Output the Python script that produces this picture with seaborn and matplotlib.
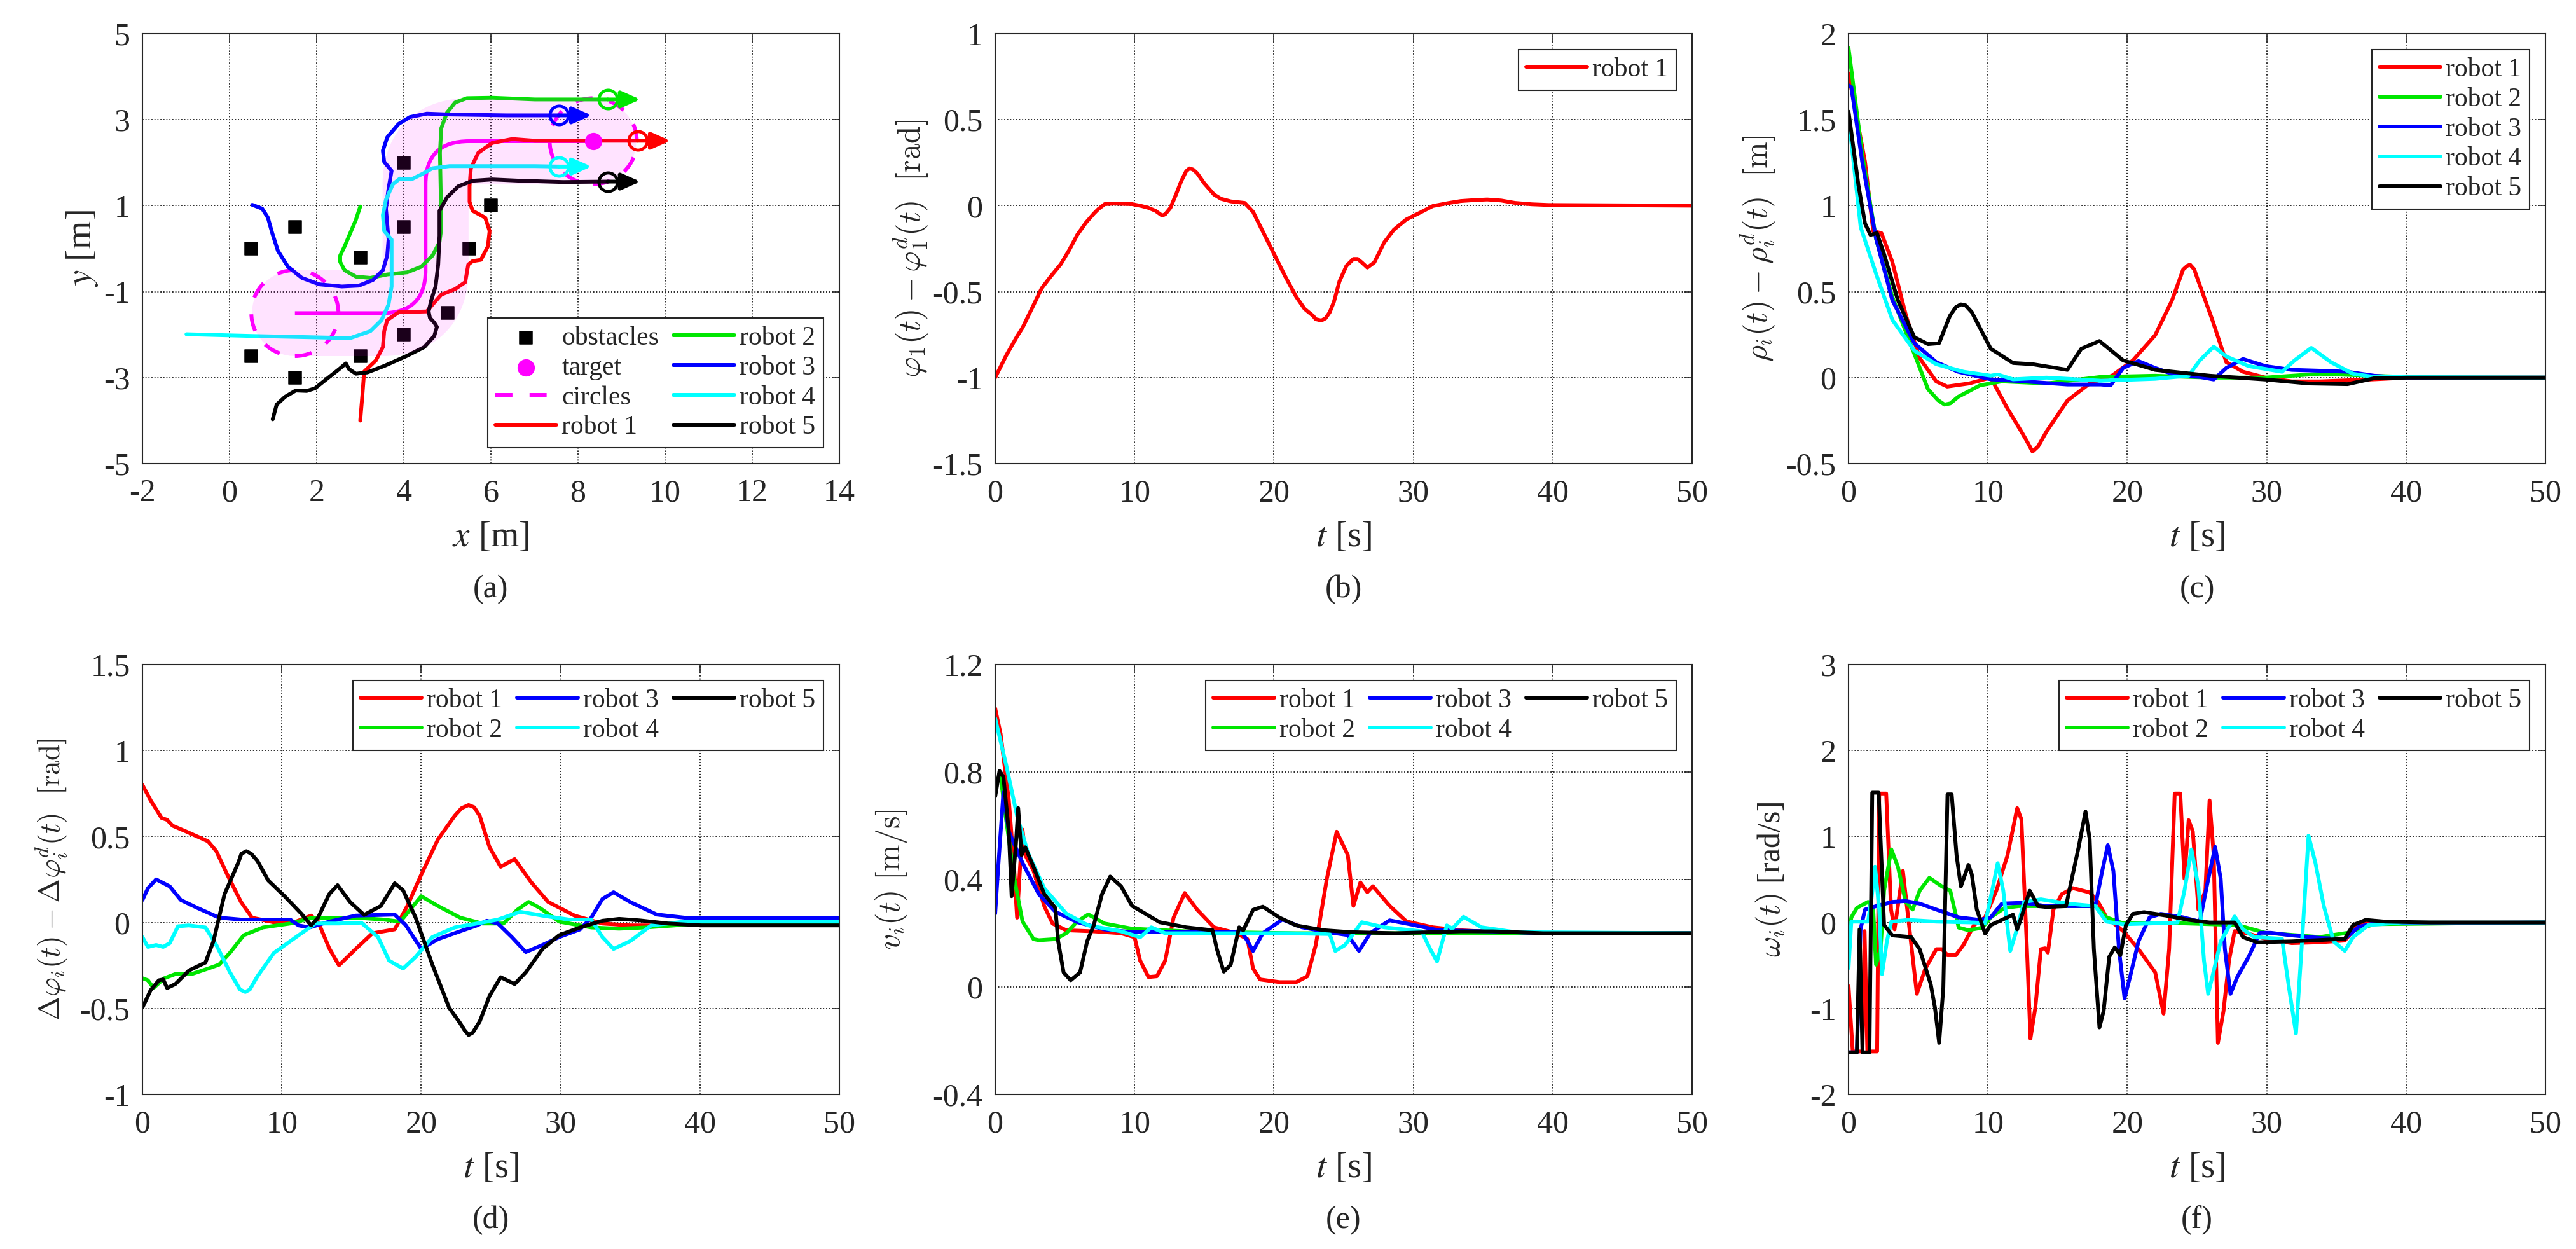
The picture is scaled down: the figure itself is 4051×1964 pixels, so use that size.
import numpy as np
import matplotlib
matplotlib.use('Agg')
import matplotlib.pyplot as plt
import seaborn as sns
from matplotlib.path import Path
from matplotlib.patches import PathPatch, Circle
from matplotlib.lines import Line2D
from matplotlib.ticker import FuncFormatter

sns.set_style('white')
plt.rcParams['font.family'] = ['Liberation Serif', 'DejaVu Serif']
plt.rcParams['mathtext.fontset'] = 'stix'
plt.rcParams['axes.unicode_minus'] = False

# ---------------- panel (a): trajectories ----------------
obst_x = [0.5, 1.5, 3, 4, 4, 5.5, 6, 5, 4, 0.5, 3, 1.5]
obst_y = [0, 0.5, -0.2, 2, 0.5, 0, 1, -1.5, -2, -2.5, -2.5, -3]
target_x = [8.35]
target_y = [2.5]
circle_cx = [1.5, 8.35]
circle_cy = [-1.5, 2.5]
circle_r = 1.0
# reference path (vertices + quadratic bezier controls at the corners)
ref_x = [1.5, 3.5, 4.5, 4.5, 4.5, 4.5, 5.5, 8.35]
ref_y = [-1.5, -1.5, -1.5, -0.5, 1.5, 2.5, 2.5, 2.5]
band_width = 2.0
arrow_len = 0.75

traj1 = [(3.0, -4.0), (3.05, -3.4), (3.09, -2.86), (3.36, -2.60), (3.52, -2.29), (3.55, -1.92),
         (3.62, -1.66), (3.88, -1.48), (4.53, -1.46), (4.66, -1.30), (4.86, -1.07), (5.18, -0.94),
         (5.41, -0.78), (5.48, -0.37), (5.58, -0.29), (5.77, -0.26), (5.93, 0.05), (5.97, 0.41),
         (5.87, 0.72), (5.58, 0.88), (5.51, 1.09), (5.51, 1.45), (5.54, 1.87), (5.71, 2.23),
         (6.03, 2.46), (6.49, 2.55), (7.01, 2.51), (7.66, 2.51), (9.37, 2.51)]
traj2 = [(3.0, 0.98), (2.90, 0.67), (2.77, 0.36), (2.64, 0.05), (2.54, -0.16), (2.54, -0.31),
         (2.64, -0.50), (2.90, -0.65), (3.23, -0.68), (3.62, -0.60), (4.08, -0.55), (4.40, -0.42),
         (4.66, -0.16), (4.82, 0.15), (4.86, 0.46), (4.85, 1.19), (4.83, 2.23), (4.86, 2.80),
         (4.99, 3.16), (5.18, 3.40), (5.45, 3.50), (6.03, 3.51), (7.01, 3.47), (7.99, 3.47),
         (8.68, 3.47)]
traj3 = [(0.52, 1.02), (0.75, 0.93), (0.88, 0.72), (0.98, 0.36), (1.11, -0.05), (1.34, -0.42),
         (1.66, -0.68), (2.06, -0.83), (2.58, -0.88), (2.97, -0.86), (3.29, -0.73), (3.52, -0.50),
         (3.62, -0.16), (3.65, 0.21), (3.62, 0.57), (3.59, 0.93), (3.65, 1.40), (3.72, 1.81),
         (3.55, 2.02), (3.52, 2.28), (3.62, 2.59), (3.88, 2.90), (4.14, 3.06), (4.53, 3.14),
         (5.05, 3.12), (6.36, 3.10), (7.56, 3.10)]
traj4 = [(-0.99, -1.99), (0.51, -2.03), (2.77, -2.08), (3.23, -1.92), (3.49, -1.66), (3.65, -1.30),
         (3.72, -0.88), (3.72, -0.26), (3.72, 0.21), (3.55, 0.41), (3.52, 0.78), (3.59, 1.14),
         (3.75, 1.50), (3.91, 1.63), (4.17, 1.61), (4.43, 1.74), (4.66, 1.87), (5.05, 1.92),
         (5.70, 1.92), (7.01, 1.92), (7.56, 1.91)]
traj5 = [(0.99, -3.97), (1.08, -3.63), (1.27, -3.45), (1.52, -3.30), (1.77, -3.31), (1.96, -3.25),
         (2.27, -3.0), (2.52, -2.80), (2.67, -2.67), (2.74, -2.80), (2.90, -2.91), (3.16, -2.88),
         (3.55, -2.73), (4.08, -2.49), (4.47, -2.29), (4.70, -2.03), (4.76, -1.82), (4.70, -1.72),
         (4.60, -1.61), (4.57, -1.46), (4.63, -1.20), (4.73, -0.88), (4.79, -0.37), (4.82, 0.30),
         (4.82, 0.88), (4.99, 1.19), (5.25, 1.45), (5.58, 1.58), (6.03, 1.61), (6.68, 1.58),
         (7.66, 1.55), (8.68, 1.56)]

# ---------------- panel (b) ----------------
b_r1 = [(0, -1.0), (0.8, -0.87), (1.57, -0.76), (1.96, -0.71), (3.34, -0.48), (4.0, -0.41),
        (4.71, -0.34), (5.3, -0.26), (5.89, -0.17), (6.5, -0.10), (7.07, -0.047), (7.4, -0.02),
        (7.86, 0.009), (8.5, 0.012), (9.82, 0.009), (10.5, -0.002), (11.0, -0.013), (11.5, -0.03),
        (11.98, -0.058), (12.2, -0.05), (12.57, -0.013), (13.0, 0.07), (13.35, 0.143), (13.7, 0.2),
        (13.94, 0.217), (14.2, 0.21), (14.5, 0.188), (15.0, 0.13), (15.7, 0.065), (16.2, 0.04),
        (16.9, 0.025), (17.9, 0.016), (18.5, -0.036), (19.2, -0.15), (20.0, -0.28), (20.8, -0.41),
        (21.6, -0.53), (22.2, -0.6), (22.8, -0.64), (23.0, -0.66), (23.4, -0.668), (23.7, -0.655),
        (24.0, -0.62), (24.3, -0.56), (24.7, -0.44), (25.2, -0.35), (25.7, -0.31), (26.0, -0.31),
        (26.3, -0.33), (26.7, -0.36), (27.2, -0.33), (27.9, -0.215), (28.6, -0.14), (29.5, -0.08),
        (30.5, -0.04), (31.4, -0.002), (32.5, 0.015), (33.4, 0.027), (34.5, 0.033), (35.3, 0.036),
        (36.3, 0.03), (37.3, 0.016), (38.5, 0.008), (39.7, 0.004), (50, 0.0)]

# ---------------- panel (c) ----------------
c_r1 = [(0, 1.77), (1.18, 1.256), (1.77, 0.852), (2.36, 0.84), (3.14, 0.673), (4.13, 0.359),
        (5.11, 0.112), (6.29, -0.022), (7.08, -0.052), (8.65, -0.034), (10.2, 0.0), (11.4, -0.18),
        (12.4, -0.314), (12.8, -0.37), (13.2, -0.43), (13.6, -0.40), (14.2, -0.314), (15.7, -0.134),
        (17.3, -0.034), (18.9, 0.011), (20.4, 0.10), (22.0, 0.247), (23.2, 0.448), (23.7, 0.56),
        (24.0, 0.628), (24.3, 0.65), (24.5, 0.657), (24.8, 0.63), (25.0, 0.583), (25.5, 0.47),
        (26.1, 0.336), (27.1, 0.09), (28.3, 0.034), (29.9, 0.0), (31.8, -0.022), (33.8, -0.022),
        (37.7, -0.01), (40.1, 0.0), (50, 0.0)]
c_r2 = [(0, 1.917), (0.98, 1.30), (1.97, 0.807), (3.14, 0.47), (4.52, 0.18), (5.70, -0.067),
        (6.4, -0.13), (6.88, -0.157), (7.3, -0.15), (7.86, -0.112), (9.43, -0.045), (11.0, -0.022),
        (14.2, -0.034), (18.1, 0.004), (22.0, 0.011), (25.9, 0.0), (29.9, 0.0), (33.8, 0.022),
        (37.7, 0.01), (41.7, 0.0), (50, 0.0)]
c_r3 = [(0, 1.70), (0.2, 1.69), (0.98, 1.256), (1.97, 0.81), (3.14, 0.45), (4.72, 0.20),
        (6.29, 0.09), (7.86, 0.034), (10.2, -0.01), (12.6, -0.022), (15.7, -0.04), (18.1, -0.04),
        (18.8, -0.045), (19.7, 0.056), (20.8, 0.096), (22.0, 0.056), (23.6, 0.011), (25.2, 0.004),
        (26.2, -0.011), (27.1, 0.056), (28.3, 0.108), (29.9, 0.067), (31.8, 0.045), (33.8, 0.04),
        (35.8, 0.034), (37.7, 0.011), (39.7, 0.0), (50, 0.0)]
c_r4 = [(0, 1.52), (0.87, 0.875), (1.97, 0.605), (3.14, 0.336), (4.72, 0.157), (6.29, 0.078),
        (8.25, 0.034), (10.2, 0.011), (10.7, 0.018), (11.8, -0.01), (14.2, 0.0), (18.1, -0.018),
        (22.0, -0.007), (24.4, 0.011), (25.2, 0.10), (26.2, 0.18), (27.1, 0.123), (28.7, 0.067),
        (31.1, 0.034), (32.0, 0.10), (33.2, 0.173), (34.6, 0.09), (36.2, 0.022), (37.7, 0.004),
        (50, 0.0)]
c_r5 = [(0, 1.547), (0.71, 1.12), (1.18, 0.897), (1.57, 0.83), (2.04, 0.84), (2.55, 0.718),
        (3.54, 0.45), (4.72, 0.235), (5.70, 0.195), (6.49, 0.20), (7.27, 0.359), (7.7, 0.41),
        (8.06, 0.426), (8.4, 0.42), (8.84, 0.381), (10.2, 0.168), (11.8, 0.085), (13.2, 0.078),
        (15.7, 0.045), (16.7, 0.168), (18.0, 0.213), (19.7, 0.10), (22.0, 0.045), (25.9, 0.011),
        (29.9, -0.011), (33.0, -0.034), (35.8, -0.038), (37.7, -0.004), (40.1, 0.0), (50, 0.0)]

# ---------------- panel (d) ----------------
d_r1 = [(0, 0.80), (0.59, 0.71), (1.37, 0.608), (1.77, 0.597), (2.16, 0.563), (3.14, 0.529),
        (4.71, 0.472), (5.30, 0.415), (6.09, 0.278), (7.07, 0.12), (7.86, 0.028), (9.43, 0.001),
        (11.0, 0.005), (12.1, 0.04), (12.6, 0.005), (13.4, -0.15), (14.1, -0.249), (15.3, -0.154),
        (16.5, -0.063), (18.1, -0.04), (19.0, 0.096), (20.0, 0.278), (21.2, 0.483), (22.4, 0.62),
        (22.9, 0.665), (23.4, 0.683), (23.8, 0.67), (24.2, 0.62), (24.9, 0.438), (25.7, 0.324),
        (26.7, 0.369), (27.9, 0.233), (29.1, 0.12), (31.0, 0.04), (33.0, -0.006), (35.0, -0.017),
        (36.9, -0.017), (40.8, -0.015), (50, -0.015)]
d_r2 = [(0, -0.324), (0.39, -0.336), (0.79, -0.381), (1.57, -0.324), (2.36, -0.30), (3.53, -0.30),
        (4.71, -0.268), (5.5, -0.245), (6.28, -0.176), (7.27, -0.074), (8.64, -0.029), (10.6, -0.006),
        (12.2, 0.028), (15.3, 0.028), (17.3, 0.017), (18.5, 0.005), (19.2, 0.074), (20.0, 0.153),
        (21.2, 0.096), (22.8, 0.028), (24.4, -0.006), (25.9, -0.006), (26.9, 0.074), (27.7, 0.12),
        (28.5, 0.085), (29.9, 0.005), (32.2, -0.029), (34.2, -0.036), (36.1, -0.029), (38.9, -0.013),
        (50, 0.001)]
d_r3 = [(0, 0.131), (0.39, 0.199), (0.98, 0.251), (1.96, 0.21), (2.75, 0.131), (3.93, 0.085),
        (5.5, 0.028), (7.07, 0.017), (10.6, 0.017), (11.2, -0.017), (12.0, -0.029), (13.4, 0.005),
        (15.3, 0.04), (18.1, 0.046), (18.9, -0.017), (20.0, -0.154), (21.2, -0.097), (22.8, -0.051),
        (24.0, -0.017), (24.7, 0.01), (25.5, -0.006), (26.5, -0.085), (27.5, -0.172), (28.7, -0.131),
        (29.9, -0.085), (31.4, -0.04), (32.2, 0.028), (33.0, 0.137), (33.8, 0.176), (35.0, 0.119),
        (36.9, 0.046), (38.9, 0.028), (50, 0.028)]
d_r4 = [(0, -0.085), (0.39, -0.142), (0.98, -0.131), (1.49, -0.142), (1.96, -0.12), (2.55, -0.022),
        (3.34, -0.017), (4.52, -0.029), (5.3, -0.131), (6.28, -0.29), (7.0, -0.39), (7.38, -0.404),
        (7.7, -0.39), (8.25, -0.313), (9.43, -0.177), (11.0, -0.086), (12.4, -0.006), (14.1, -0.006),
        (15.7, -0.001), (16.9, -0.085), (17.7, -0.222), (18.7, -0.268), (19.6, -0.2), (20.8, -0.085),
        (22.4, -0.029), (24.0, -0.006), (25.5, 0.017), (27.1, 0.062), (28.7, 0.04), (30.6, 0.017),
        (32.2, 0.017), (33.0, -0.085), (33.8, -0.154), (35.0, -0.108), (36.5, -0.017), (38.9, 0.005),
        (50, 0.005)]
d_r5 = [(0, -0.495), (0.59, -0.393), (1.18, -0.336), (1.49, -0.331), (1.77, -0.381), (2.36, -0.358),
        (3.34, -0.279), (4.52, -0.233), (5.1, -0.108), (5.89, 0.165), (6.87, 0.347), (7.1, 0.40),
        (7.46, 0.415), (7.8, 0.40), (8.25, 0.358), (9.03, 0.244), (10.2, 0.153), (11.4, 0.051),
        (12.1, -0.017), (12.6, 0.028), (13.4, 0.165), (14.0, 0.217), (14.9, 0.119), (15.9, 0.044),
        (17.1, 0.096), (18.1, 0.228), (18.7, 0.187), (19.6, 0.028), (20.8, -0.245), (22.0, -0.495),
        (22.8, -0.586), (23.1, -0.625), (23.4, -0.654), (23.7, -0.64), (24.2, -0.575), (24.9, -0.427),
        (25.7, -0.318), (26.7, -0.358), (27.5, -0.29), (28.7, -0.154), (29.9, -0.074), (31.4, -0.029),
        (33.0, 0.01), (34.2, 0.021), (35.7, 0.012), (37.7, -0.006), (40.1, -0.017), (50, -0.017)]

# ---------------- panel (e) ----------------
e_r1 = [(0, 1.037), (0.39, 0.942), (0.98, 0.695), (1.37, 0.433), (1.57, 0.258), (1.77, 0.433),
        (1.96, 0.586), (2.16, 0.491), (2.75, 0.433), (3.53, 0.30), (4.12, 0.236), (5.1, 0.211),
        (7.07, 0.207), (9.03, 0.2), (10.0, 0.185), (10.4, 0.098), (11.0, 0.037), (11.6, 0.04),
        (12.2, 0.098), (12.8, 0.258), (13.6, 0.35), (14.5, 0.287), (15.7, 0.222), (17.3, 0.2),
        (18.1, 0.178), (18.5, 0.069), (19.0, 0.028), (20.4, 0.018), (21.6, 0.018), (22.4, 0.04),
        (23.0, 0.156), (23.8, 0.404), (24.5, 0.578), (25.3, 0.491), (25.7, 0.302), (26.2, 0.389),
        (26.7, 0.353), (27.1, 0.375), (28.3, 0.302), (29.5, 0.244), (31.4, 0.222), (33.4, 0.211),
        (37.3, 0.2), (50, 0.2)]
e_r2 = [(0, 0.768), (0.39, 0.782), (0.79, 0.622), (1.37, 0.404), (1.96, 0.244), (2.75, 0.178),
        (3.14, 0.174), (4.32, 0.178), (5.1, 0.2), (5.9, 0.244), (6.68, 0.27), (7.86, 0.236),
        (9.8, 0.217), (13.7, 0.207), (17.7, 0.203), (21.6, 0.2), (50, 0.2)]
e_r3 = [(0, 0.273), (0.2, 0.433), (0.59, 0.724), (0.98, 0.578), (1.96, 0.462), (3.14, 0.345),
        (4.32, 0.28), (5.9, 0.241), (7.86, 0.214), (9.82, 0.204), (13.7, 0.204), (17.7, 0.204),
        (18.1, 0.171), (18.5, 0.134), (19.2, 0.2), (20.6, 0.251), (22.0, 0.222), (24.0, 0.203),
        (25.3, 0.193), (26.1, 0.134), (26.9, 0.2), (28.3, 0.248), (29.9, 0.232), (31.8, 0.211),
        (35.3, 0.207), (39.3, 0.2), (50, 0.2)]
e_r4 = [(0, 1.0), (0.79, 0.826), (1.57, 0.637), (2.36, 0.498), (3.53, 0.367), (5.1, 0.273),
        (6.68, 0.229), (9.03, 0.207), (10.4, 0.185), (11.2, 0.222), (12.2, 0.2), (15.7, 0.2),
        (20.8, 0.2), (24.0, 0.197), (24.4, 0.134), (25.1, 0.156), (26.3, 0.241), (27.9, 0.222),
        (30.6, 0.207), (31.2, 0.142), (31.7, 0.095), (32.4, 0.229), (32.8, 0.217), (33.6, 0.261),
        (34.9, 0.222), (37.3, 0.204), (50, 0.2)]
e_r5 = [(0, 0.709), (0.31, 0.804), (0.59, 0.782), (0.98, 0.578), (1.18, 0.338), (1.49, 0.534),
        (1.65, 0.666), (1.89, 0.491), (2.16, 0.52), (2.75, 0.447), (3.53, 0.345), (4.32, 0.294),
        (4.52, 0.17), (4.91, 0.054), (5.42, 0.025), (6.09, 0.054), (6.6, 0.17), (7.07, 0.229),
        (7.66, 0.345), (8.25, 0.411), (9.03, 0.375), (9.82, 0.302), (11.8, 0.241), (13.7, 0.222),
        (15.6, 0.211), (15.9, 0.142), (16.4, 0.057), (16.9, 0.083), (17.5, 0.222), (17.8, 0.211),
        (18.5, 0.287), (19.2, 0.299), (20.4, 0.258), (21.6, 0.229), (23.6, 0.211), (25.5, 0.204),
        (28.7, 0.2), (33.4, 0.207), (35.7, 0.207), (39.3, 0.2), (50, 0.2)]

# ---------------- panel (f) ----------------
f_r1 = [(0, -0.74), (0.3, -1.5), (1.0, -1.5), (1.15, -0.1), (1.35, -1.5), (2.05, -1.5), (2.2, 1.5),
        (2.7, 1.5), (3.05, 0.15), (3.3, -0.08), (3.9, 0.6), (4.9, -0.83), (5.5, -0.54), (6.3, -0.31),
        (6.7, -0.31), (7.1, -0.38), (7.7, -0.38), (8.25, -0.26), (9.0, -0.03), (9.8, 0.06),
        (10.6, 0.37), (11.4, 0.78), (12.1, 1.33), (12.4, 1.2), (12.8, -0.31), (13.05, -1.35),
        (13.4, -0.99), (13.8, -0.31), (14.1, -0.30), (14.3, -0.35), (14.7, 0.15), (15.3, 0.33),
        (16.1, 0.4), (17.3, 0.35), (17.9, 0.24), (18.5, 0.06), (19.7, -0.1), (20.8, -0.31),
        (22.0, -0.58), (22.6, -1.06), (23.0, -0.31), (23.4, 1.5), (23.8, 1.5), (24.1, 0.51),
        (24.4, 1.19), (24.7, 1.06), (25.1, 0.15), (25.6, 0.37), (25.9, 1.42), (26.2, 0.78),
        (26.5, -1.4), (26.9, -1.03), (27.3, -0.44), (27.7, -0.1), (28.7, -0.13), (29.9, -0.19),
        (31.8, -0.24), (33.8, -0.23), (35.6, -0.21), (36.4, -0.06), (37.3, 0.01), (39.7, 0.0),
        (50, 0.0)]
f_r2 = [(0, -0.2), (0.2, 0.06), (0.6, 0.17), (1.4, 0.24), (1.77, 0.15), (1.97, -0.49), (2.3, -0.31),
        (2.55, 0.37), (3.07, 0.85), (3.54, 0.65), (4.1, 0.24), (4.6, 0.15), (5.1, 0.37), (5.8, 0.52),
        (6.7, 0.42), (7.3, 0.37), (7.9, -0.06), (8.6, -0.09), (9.6, -0.06), (10.2, 0.06), (11.2, 0.17),
        (12.2, 0.19), (15.7, 0.19), (17.7, 0.19), (18.5, 0.06), (19.7, -0.01), (24.0, -0.01),
        (27.9, -0.03), (29.9, -0.12), (33.8, -0.17), (35.8, -0.12), (37.7, -0.02), (50, 0.0)]
f_r3 = [(0, -1.51), (0.6, -1.51), (0.86, -0.08), (1.18, 0.15), (1.97, 0.19), (3.14, 0.24),
        (4.1, 0.25), (5.1, 0.22), (6.3, 0.15), (7.9, 0.06), (9.4, 0.03), (10.2, 0.06), (11.0, 0.22),
        (12.6, 0.23), (14.2, 0.19), (17.7, 0.19), (18.2, 0.6), (18.6, 0.9), (19.0, 0.6),
        (19.4, -0.31), (19.8, -0.88), (20.2, -0.63), (20.8, -0.22), (21.6, 0.06), (22.4, 0.1),
        (24.0, 0.06), (25.2, 0.01), (25.7, 0.42), (26.3, 0.88), (26.7, 0.51), (27.0, -0.31),
        (27.4, -0.83), (27.9, -0.63), (28.7, -0.4), (29.5, -0.12), (30.3, -0.12), (31.8, -0.15),
        (33.8, -0.18), (35.6, -0.19), (36.6, -0.05), (37.7, -0.01), (50, 0.0)]
f_r4 = [(0, -0.53), (0.2, 0.01), (1.4, 0.01), (1.65, 0.28), (1.9, 0.65), (2.2, 0.15), (2.4, -0.6),
        (2.75, -0.22), (3.07, 0.01), (4.3, 0.03), (6.3, 0.01), (9.0, 0.0), (9.8, -0.01), (10.3, 0.37),
        (10.7, 0.69), (11.1, 0.37), (11.6, -0.33), (12.0, -0.12), (12.6, 0.24), (13.8, 0.27),
        (15.7, 0.22), (17.7, 0.19), (18.5, 0.01), (19.7, -0.02), (22.0, -0.01), (23.6, 0.0),
        (24.1, 0.37), (24.6, 0.85), (25.1, 0.42), (25.5, -0.44), (25.8, -0.83), (26.1, -0.63),
        (26.7, -0.22), (27.7, 0.07), (28.3, -0.08), (29.1, -0.17), (31.1, -0.19), (31.6, -0.76),
        (32.1, -1.29), (32.5, -0.31), (33.0, 1.01), (33.5, 0.69), (34.1, 0.19), (34.8, -0.22),
        (35.6, -0.33), (36.2, -0.17), (37.3, -0.03), (39.7, 0.0), (50, 0.0)]
f_r5 = [(0, -1.51), (0.6, -1.51), (0.79, -0.08), (1.0, -1.51), (1.5, -1.51), (1.7, 1.51),
        (2.16, 1.51), (2.55, -0.03), (3.14, -0.15), (4.5, -0.17), (5.1, -0.31), (5.9, -0.72),
        (6.2, -0.99), (6.5, -1.40), (6.8, -0.76), (7.1, 1.49), (7.4, 1.49), (7.75, 0.78), (8.06, 0.42),
        (8.6, 0.67), (8.84, 0.56), (9.2, 0.15), (9.8, -0.13), (10.2, -0.03), (11.0, 0.03),
        (11.8, 0.09), (12.1, -0.08), (12.4, 0.06), (13.0, 0.37), (13.6, 0.19), (14.2, 0.18),
        (15.6, 0.19), (15.9, 0.42), (16.5, 0.87), (17.0, 1.29), (17.3, 0.97), (17.6, -0.31),
        (18.0, -1.22), (18.3, -1.03), (18.7, -0.4), (19.1, -0.29), (19.5, -0.38), (19.9, -0.03),
        (20.4, 0.1), (21.2, 0.12), (22.8, 0.08), (24.4, 0.03), (25.9, 0.0), (27.7, 0.0),
        (28.3, -0.17), (29.3, -0.23), (31.8, -0.22), (35.6, -0.19), (36.2, -0.03), (37.1, 0.03),
        (38.5, 0.01), (41.7, 0.0), (50, 0.0)]

robot_labels = ['robot 1', 'robot 2', 'robot 3', 'robot 4', 'robot 5']
robot_colors = ['#ff0000', '#00e600', '#0000ff', '#00ffff', '#000000']

# ---------------- figure layout ----------------
W, H = 4051, 1964
LW = 4.3
TICK_FS = 36
LEG_FS = 30
fig = plt.figure(figsize=(W / 100, H / 100), dpi=100)

col_left = [224, 1565, 2907]
ax_w = 1096
row_top = [53, 1045]
ax_h = 676


def make_ax(r, c):
    return fig.add_axes([col_left[c] / W, 1 - (row_top[r] + ax_h) / H, ax_w / W, ax_h / H])


def style(ax, xlim, ylim, xt, yt):
    ax.set_xlim(xlim)
    ax.set_ylim(ylim)
    ax.set_xticks(xt)
    ax.set_yticks(yt)
    fmt = FuncFormatter(lambda v, p: f'{v:g}')
    ax.xaxis.set_major_formatter(fmt)
    ax.yaxis.set_major_formatter(fmt)
    ax.set_axisbelow(True)
    ax.grid(True, color='0.1', linestyle=(0, (1, 1.6)), lw=1.3)
    ax.tick_params(axis='both', direction='in', length=9, width=1.2, labelsize=TICK_FS,
                   top=True, right=True, color='0.15')
    ax.tick_params(axis='x', pad=17)
    ax.tick_params(axis='y', pad=14)
    for sp in ax.spines.values():
        sp.set_color('0.15')
        sp.set_linewidth(1.5)


def set_labels(ax, xlab, ylab, ylab_x, cm=True, ylab_fs=36):
    ax.set_xlabel(xlab, fontsize=41, va='center')
    ax.xaxis.set_label_coords(0.5, -0.172)
    if cm:
        ax.set_ylabel(ylab, fontsize=ylab_fs, va='center', math_fontfamily='cm')
    else:
        ax.set_ylabel(ylab, fontsize=41, va='center')
    ax.yaxis.set_label_coords(ylab_x, 0.5)


def legend(ax, loc, ncol, handles=None, labels=None):
    if handles is None:
        handles, labels = ax.get_legend_handles_labels()
    leg = ax.legend(handles, labels, loc=loc, ncol=ncol, fontsize=LEG_FS, handlelength=2.3,
                    handletextpad=0.2, columnspacing=0.55, labelspacing=0.2, borderpad=0.3,
                    borderaxespad=0.6, fancybox=False, framealpha=1, edgecolor='0.15',
                    scatterpoints=1)
    leg.get_frame().set_linewidth(1.5)
    return leg


def series(ax, pts, color, label):
    arr = np.array(pts)
    sns.lineplot(x=arr[:, 0], y=arr[:, 1], color=color, lw=LW, ax=ax, label=label,
                 sort=False, estimator=None)


# ---------------- (a) ----------------
ax = make_ax(0, 0)
style(ax, (-2, 14), (-5, 5), np.arange(-2, 15, 2), np.arange(-5, 6, 2))

codes = [Path.MOVETO, Path.LINETO, Path.CURVE3, Path.CURVE3, Path.LINETO, Path.CURVE3,
         Path.CURVE3, Path.LINETO]
ref_path = Path(np.column_stack([ref_x, ref_y]), codes)
ax.add_patch(PathPatch(ref_path, fill=False, lw=LW, ec='#ff00ff', zorder=2))
for cx, cy in zip(circle_cx, circle_cy):
    ax.add_patch(Circle((cx, cy), circle_r, fill=False, ec='#ff00ff', lw=LW,
                        ls=(0, (4.5, 4.5)), zorder=2))

sns.scatterplot(x=obst_x, y=obst_y, marker='s', s=190, color='k', edgecolor='k',
                ax=ax, label='obstacles', zorder=3)

trajs = [traj1, traj2, traj3, traj4, traj5]
for pts, col, lab in zip(trajs, robot_colors, robot_labels):
    arr = np.array(pts)
    sns.lineplot(x=arr[:, 0], y=arr[:, 1], color=col, lw=LW, ax=ax, label=lab,
                 sort=False, estimator=None, zorder=4)

# translucent corridor laid over the paths (width = 2 m)
p0 = ax.transData.transform((0, 0))
p1 = ax.transData.transform((0, band_width))
band_lw = (p1[1] - p0[1]) * 72 / fig.dpi
ax.add_patch(PathPatch(ref_path, fill=False, lw=band_lw, ec=(1, 0, 1, 0.11),
                       capstyle='round', joinstyle='round', zorder=4.5))

sns.scatterplot(x=target_x, y=target_y, marker='o', s=330, color='#ff00ff', edgecolor='#ff00ff',
                ax=ax, label='target', zorder=5)

for pts, col in zip(trajs, robot_colors):
    ex, ey = pts[-1]
    ax.plot([ex], [ey], 'o', mfc='none', mec=col, ms=21, mew=3.5, zorder=6)
    ax.annotate('', xy=(ex + arrow_len, ey), xytext=(ex, ey), zorder=6,
                arrowprops=dict(arrowstyle='-|>,head_length=0.45,head_width=0.2',
                                mutation_scale=40, lw=LW, color=col, shrinkA=0, shrinkB=0))

h, l = ax.get_legend_handles_labels()
hd = dict(zip(l, h))
circ_proxy = Line2D([], [], color='#ff00ff', lw=LW, ls=(0, (4.5, 4.5)))
order_h = [hd['obstacles'], hd['target'], circ_proxy] + [hd[k] for k in robot_labels]
order_l = ['obstacles', 'target', 'circles'] + robot_labels
legend(ax, 'lower right', 2, order_h, order_l)
set_labels(ax, r'$x$ [m]', r'$y$ [m]', -0.087, cm=False)

# ---------------- (b) ----------------
ax = make_ax(0, 1)
style(ax, (0, 50), (-1.5, 1), np.arange(0, 51, 10), [-1.5, -1, -0.5, 0, 0.5, 1])
series(ax, b_r1, robot_colors[0], 'robot 1')
legend(ax, 'upper right', 1)
set_labels(ax, r'$t$ [s]', r'$\varphi_1(t)-\varphi_1^d(t)\ \ [\mathrm{rad}]$', -0.121)

# ---------------- (c) ----------------
ax = make_ax(0, 2)
style(ax, (0, 50), (-0.5, 2), np.arange(0, 51, 10), [-0.5, 0, 0.5, 1, 1.5, 2])
for pts, col, lab in zip([c_r1, c_r2, c_r3, c_r4, c_r5], robot_colors, robot_labels):
    series(ax, pts, col, lab)
legend(ax, 'upper right', 1)
set_labels(ax, r'$t$ [s]', r'$\rho_i(t)-\rho_i^d(t)\ \ [\mathrm{m}]$', -0.13)

# ---------------- (d) ----------------
ax = make_ax(1, 0)
style(ax, (0, 50), (-1, 1.5), np.arange(0, 51, 10), [-1, -0.5, 0, 0.5, 1, 1.5])
for pts, col, lab in zip([d_r1, d_r2, d_r3, d_r4, d_r5], robot_colors, robot_labels):
    series(ax, pts, col, lab)
legend(ax, 'upper right', 3)
set_labels(ax, r'$t$ [s]', r'$\Delta\varphi_i(t)-\Delta\varphi_i^d(t)\ \ [\mathrm{rad}]$', -0.13,
           ylab_fs=33)

# ---------------- (e) ----------------
ax = make_ax(1, 1)
style(ax, (0, 50), (-0.4, 1.2), np.arange(0, 51, 10), [-0.4, 0, 0.4, 0.8, 1.2])
for pts, col, lab in zip([e_r1, e_r2, e_r3, e_r4, e_r5], robot_colors, robot_labels):
    series(ax, pts, col, lab)
legend(ax, 'upper right', 3)
set_labels(ax, r'$t$ [s]', r'$v_i(t)\ [\mathrm{m/s}]$', -0.149)

# ---------------- (f) ----------------
ax = make_ax(1, 2)
style(ax, (0, 50), (-2, 3), np.arange(0, 51, 10), [-2, -1, 0, 1, 2, 3])
for pts, col, lab in zip([f_r1, f_r2, f_r3, f_r4, f_r5], robot_colors, robot_labels):
    series(ax, pts, col, lab)
legend(ax, 'upper right', 3)
set_labels(ax, r'$t$ [s]', r'$\omega_i(t)$ [rad/s]', -0.11)

# panel captions
for c, (top_lab, bot_lab) in enumerate([('(a)', '(d)'), ('(b)', '(e)'), ('(c)', '(f)')]):
    xc = (col_left[c] + ax_w / 2) / W
    fig.text(xc, 1 - 927 / H, top_lab, ha='center', va='center', fontsize=36)
    fig.text(xc, 1 - 1919 / H, bot_lab, ha='center', va='center', fontsize=36)

fig.savefig('out.png', dpi=100)
